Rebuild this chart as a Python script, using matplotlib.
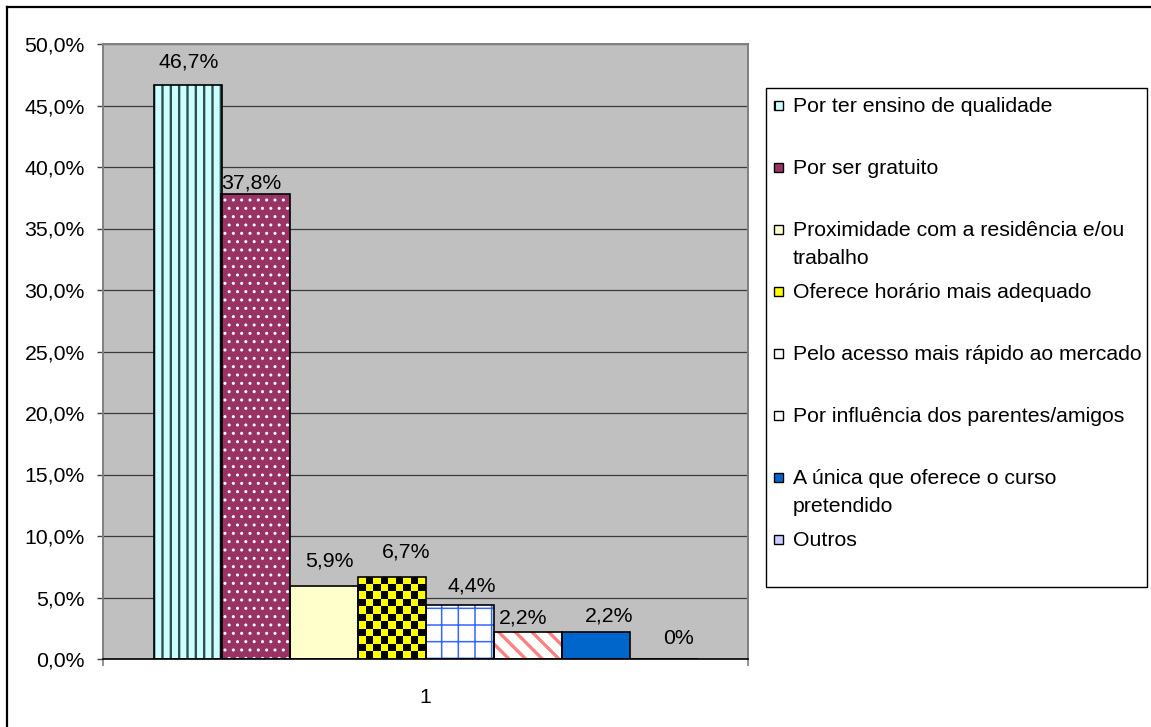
import numpy as np
import matplotlib
matplotlib.use("Agg")
import matplotlib.pyplot as plt
from matplotlib.patches import Rectangle
from matplotlib.lines import Line2D
from matplotlib.colors import ListedColormap
from matplotlib.ticker import FuncFormatter, FixedLocator

plt.rcParams['font.family'] = ['Liberation Sans', 'DejaVu Sans']

# ---- data ----
categories = ["Por ter ensino de qualidade",
              "Por ser gratuito",
              "Proximidade com a residência e/ou\ntrabalho",
              "Oferece horário mais adequado",
              "Pelo acesso mais rápido ao mercado",
              "Por influência dos parentes/amigos",
              "A única que oferece o curso\npretendido",
              "Outros"]
values = [46.7, 37.8, 5.9, 6.7, 4.4, 2.2, 2.2, 0.0]
group_labels = ["1"]
y_ticks = [0, 5, 10, 15, 20, 25, 30, 35, 40, 45, 50]

# ---- styles ----
face_colors = ['#CCFFFF', '#993366', '#FFFFCC', '#FFFF00', '#FFFFFF', '#FFFFFF', '#0066CC', '#CCCCFF']
hatches = ['||', '..', '', None, '+', '\\\\', '', '']
hatch_colors = ['#2F4F4F', '#FFFFFF', '#FFFFCC', '#FFFF00', '#3366FF', '#FF8080', '#0066CC', '#CCCCFF']
hatch_lws = [1.7, 1.0, 1.0, 1.0, 1.1, 2.4, 1.0, 1.0]
label_dy_px = [25, 13, 27, 27, 21, 16, 18, 23]
label_dx_px = [1, -4, 6, 15, 12, -4, 14, 15]

W, H = 1151, 727
DPI = 100
FS = 15.3
fig = plt.figure(figsize=(W / DPI, H / DPI), dpi=DPI)
fig.patch.set_facecolor('white')

# plot area in pixels
L, R, T, B = 103, 748, 44, 659
ax = fig.add_axes([L / W, (H - B) / H, (R - L) / W, (B - T) / H])
ax.set_facecolor('#C0C0C0')

n = len(values)
bw = 68 / (R - L)
xs = [(i - (n - 1) / 2) * bw for i in range(n)]

for i in range(n):
    hatch = hatches[i] if hatches[i] else None
    plt.rcParams['hatch.linewidth'] = hatch_lws[i]
    p = ax.bar(xs[i], values[i], width=bw, color=face_colors[i],
               edgecolor=hatch_colors[i], linewidth=0, hatch=hatch, zorder=3)[0]
    try:
        p.set_hatch_linewidth(hatch_lws[i])
    except Exception:
        pass
# checkerboard for bar 4
p4 = ax.patches[3]
x0, w, h = p4.get_x(), p4.get_width(), p4.get_height()
cell_px = 7.6
ncols = 9
nrows = max(1, int(round(h * (B - T) / 50 / cell_px)))
checker = (np.indices((nrows, ncols)).sum(axis=0) % 2)
im = ax.imshow(checker, cmap=ListedColormap(['#FFFF00', '#000000']),
               extent=(x0, x0 + w, 0, h), aspect='auto',
               interpolation='nearest', zorder=3.5)
im.set_clip_path(p4)

# outlines
ax.bar(xs, values, width=bw, fill=False, edgecolor='black', linewidth=1.2, zorder=4)

ax.set_xlim(-0.5, 0.5)
ax.set_ylim(0, 50)

# value labels
for i in range(n):
    v = values[i]
    txt = (f"{v:.1f}%".replace('.', ',')) if v else "0%"
    ax.annotate(txt, (xs[i], v), xytext=(label_dx_px[i] * 0.72, (label_dy_px[i] - 7.5) * 0.72),
                textcoords='offset points', ha='center', va='baseline',
                fontsize=FS, color='black', zorder=5)

# grid
ax.yaxis.set_major_locator(FixedLocator(y_ticks))
ax.yaxis.set_major_formatter(FuncFormatter(lambda v, p: f"{v:.1f}%".replace('.', ',')))
ax.grid(axis='y', color='#3A3A3A', linewidth=0.9, zorder=1)
ax.set_axisbelow(True)
ax.tick_params(axis='y', labelsize=FS, length=4.5, width=1.0, color='#404040', pad=8.5, direction='out')

ax.set_xticks([0])
ax.set_xticklabels(group_labels, fontsize=FS)
ax.tick_params(axis='x', which='major', length=0, pad=21)
ax.set_xticks([-0.5, 0.5], minor=True)
ax.tick_params(axis='x', which='minor', length=5, width=1.2, color='#808080', direction='out')

for s in ['left', 'top', 'right']:
    ax.spines[s].set_color('#808080')
    ax.spines[s].set_linewidth(1.4)
ax.spines['bottom'].set_color('black')
ax.spines['bottom'].set_linewidth(1.2)
ax.spines['bottom'].set_zorder(6)

# legend (drawn manually)
def fx(px):
    return px / W

def fy(py):
    return (H - py) / H

lx0, lx1, ly0, ly1 = 766, 1147, 88, 587
fig.add_artist(Rectangle((fx(lx0), fy(ly1)), fx(lx1) - fx(lx0), fy(ly0) - fy(ly1),
                         transform=fig.transFigure, facecolor='white',
                         edgecolor='black', linewidth=1.0))
first_y, step, line_h = 105, 62, 27.5
sq = 9
icon_hatch = ['|', None, None, None, None, None, None, None]
for i, lab in enumerate(categories):
    cy = first_y + step * i
    plt.rcParams['hatch.linewidth'] = 1.5
    fig.add_artist(Rectangle((fx(778 - sq / 2), fy(cy + sq / 2)), sq / W, sq / H,
                             transform=fig.transFigure, facecolor=face_colors[i],
                             edgecolor='black', linewidth=1.0, hatch=icon_hatch[i]))
    for k, line in enumerate(lab.split('\n')):
        fig.text(fx(793), fy(cy + k * line_h + 7.5), line, fontsize=FS,
                 ha='left', va='baseline')

# outer frame (left and top visible)
fig.add_artist(Line2D([fx(7), fx(7)], [fy(7), 0], transform=fig.transFigure,
                      color='black', linewidth=1.6))
fig.add_artist(Line2D([fx(7), 1], [fy(7), fy(7)], transform=fig.transFigure,
                      color='black', linewidth=1.6))

fig.savefig('out.png', dpi=DPI)
